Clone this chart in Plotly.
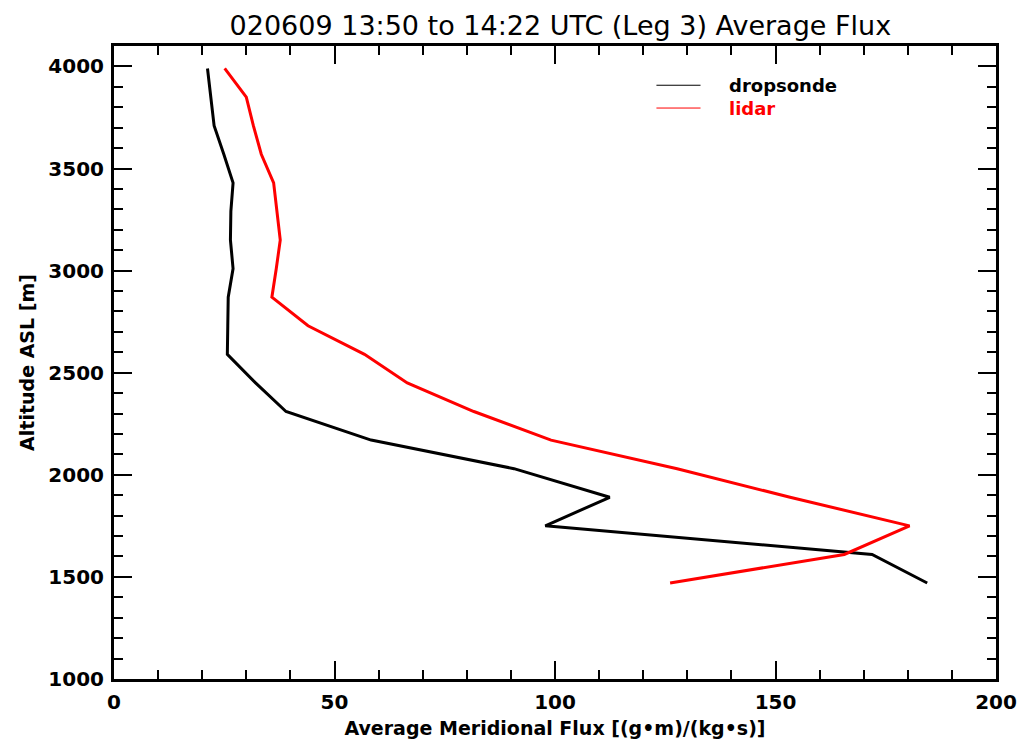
import plotly.graph_objects as go

altitude = [3990, 3850, 3710, 3570, 3430, 3290, 3150, 3010, 2870, 2730,
            2590, 2450, 2310, 2170, 2030, 1890, 1750, 1610, 1470]
dropsonde = [21.2, 22.0, 22.7, 24.9, 27.0, 26.5, 26.4, 27.0, 25.9, 25.8,
             25.7, 32.1, 39.0, 58.3, 90.7, 112.4, 97.8, 171.9, 184.4]
lidar = [25.1, 30.0, 31.6, 33.4, 36.2, 37.0, 37.7, 36.8, 35.8, 44.0,
         56.8, 66.5, 81.6, 99.1, 127.7, 153.3, 180.4, 165.6, 126.1]

series_names = ["dropsonde", "lidar"]
series_colors = ["#000000", "#ff0000"]

title_text = "020609 13:50 to 14:22 UTC (Leg 3) Average Flux"
x_title = "Average Meridional Flux [(g\u2022m)/(kg\u2022s)]"
y_title = "Altitude ASL [m]"
x_ticks = [0, 50, 100, 150, 200]
y_ticks = [1000, 1500, 2000, 2500, 3000, 3500, 4000]

fig = go.Figure()
for name, vals, col in zip(series_names, [dropsonde, lidar], series_colors):
    fig.add_trace(go.Scatter(x=vals, y=altitude, mode="lines", name=name,
                             line=dict(color=col, width=3), showlegend=False))

tickfont = dict(family="DejaVu Sans", size=20, color="black", weight="bold")

# page body has an 8px margin; the figure is sized to fit the 1029x750 window
fig.update_layout(
    width=1021, height=742,
    margin=dict(l=106, r=26, t=38, b=71),
    plot_bgcolor="white", paper_bgcolor="white",
    title=dict(text=title_text, x=0.541, xanchor="center", y=0.977, yanchor="middle",
               font=dict(family="DejaVu Sans", size=27, color="black")),
    xaxis=dict(range=[0, 200], tickvals=x_ticks, ticktext=[str(v) for v in x_ticks],
               showgrid=False, zeroline=False, showline=True, linecolor="black", linewidth=3,
               mirror="ticks", ticks="inside", ticklen=18, tickwidth=2, tickcolor="black",
               minor=dict(ticks="inside", ticklen=9, tickwidth=2, tickcolor="black", dtick=10, showgrid=False),
               tickfont=tickfont, ticklabelstandoff=3,
               title=dict(text=x_title, standoff=9,
                          font=dict(family="DejaVu Sans", size=19, color="black", weight="bold"))),
    yaxis=dict(range=[1000, 4100], tickvals=y_ticks, ticktext=[str(v) for v in y_ticks],
               showgrid=False, zeroline=False, showline=True, linecolor="black", linewidth=3,
               mirror="ticks", ticks="inside", ticklen=18, tickwidth=2, tickcolor="black",
               minor=dict(ticks="inside", ticklen=9, tickwidth=2, tickcolor="black", dtick=100, showgrid=False),
               tickfont=tickfont, ticklabelstandoff=3,
               title=dict(text=y_title, standoff=9,
                          font=dict(family="DejaVu Sans", size=19, color="black", weight="bold"))),
)

# legend drawn manually
leg_y = [0.938, 0.902]
for name, col, ly in zip(series_names, series_colors, leg_y):
    fig.add_shape(type="line", xref="paper", yref="paper", x0=0.615, x1=0.665, y0=ly, y1=ly,
                  line=dict(color=col, width=1))
    fig.add_annotation(text=name, xref="paper", yref="paper", x=0.695, y=ly,
                       xanchor="left", yanchor="middle", showarrow=False,
                       font=dict(family="DejaVu Sans", size=18, color=col, weight="bold"))

fig.write_html("out.html")
